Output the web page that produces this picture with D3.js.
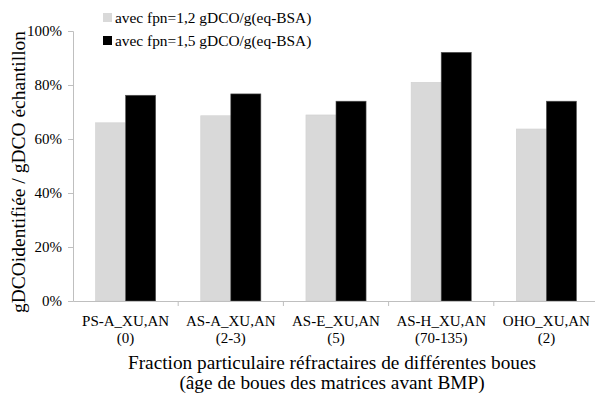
<!DOCTYPE html>
<html>
<head>
<meta charset="utf-8">
<script src="https://cdn.jsdelivr.net/npm/d3@7"></script>
<style>
  body { margin: 0; background: #fff; }
  svg { display: block; }
  svg text { font-family: "Liberation Serif", "Times New Roman", serif; fill: #000; }
</style>
</head>
<body>
<div id="chart"></div>
<script>
const WIDTH = 595;
const HEIGHT = 396;
const FONT = "Liberation Serif";

const categories = ["PS-A_XU,AN", "AS-A_XU,AN", "AS-E_XU,AN", "AS-H_XU,AN", "OHO_XU,AN"];
const ages = ["(0)", "(2-3)", "(5)", "(70-135)", "(2)"];
const seriesNames = ["avec fpn=1,2 gDCO/g(eq-BSA)", "avec fpn=1,5 gDCO/g(eq-BSA)"];
const fpn12 = [0.66, 0.686, 0.689, 0.81, 0.637];
const fpn15 = [0.762, 0.767, 0.740, 0.921, 0.740];
const yTicks = [0, 0.2, 0.4, 0.6, 0.8, 1.0];

const colors = ["#d9d9d9", "#000000"];

const margin = { left: 73, right: -4, top: 31, bottom: 95 };

const svg = d3.select("#chart").append("svg")
    .attr("width", WIDTH)
    .attr("height", HEIGHT);

const x = d3.scaleBand()
    .domain(categories)
    .range([margin.left, WIDTH - margin.right])
    .paddingInner(0)
    .paddingOuter(0);

const y = d3.scaleLinear()
    .domain([0, 1])
    .range([HEIGHT - margin.bottom, margin.top]);

const sub = d3.scaleBand()
    .domain([0, 1])
    .range([0, x.bandwidth()])
    .paddingInner(0)
    .paddingOuter(0.75);

const rows = categories.map((c, i) => ({ cat: c, vals: [fpn12[i], fpn15[i]] }));

// bars
const groups = svg.append("g")
    .selectAll("g")
    .data(rows)
    .join("g")
    .attr("transform", d => `translate(${x(d.cat)},0)`);

groups.selectAll("rect")
    .data(d => d.vals.map((v, s) => ({ v, s })))
    .join("rect")
    .attr("x", d => sub(d.s))
    .attr("width", sub.bandwidth())
    .attr("y", d => y(d.v))
    .attr("height", d => y(0) - y(d.v))
    .attr("fill", d => colors[d.s])
    .attr("stroke", d => d.s === 0 ? "#d0d0d0" : "#555")
    .attr("stroke-width", 0.6);

// y axis
const yAxis = svg.append("g")
    .attr("transform", `translate(${margin.left},0)`)
    .call(d3.axisLeft(y).tickValues(yTicks).tickFormat(d3.format(".0%")).tickSize(5).tickPadding(6));
yAxis.attr("font-family", FONT);
yAxis.select(".domain").attr("stroke", "#bfbfbf");
yAxis.selectAll(".tick line").attr("stroke", "#bfbfbf");
yAxis.selectAll(".tick text")
    .attr("font-size", 15)
    .attr("fill", "#000");

// x axis
const xAxis = svg.append("g")
    .attr("transform", `translate(0,${y(0)})`)
    .call(d3.axisBottom(x).tickSize(0).tickFormat(""));
xAxis.select(".domain").attr("stroke", "#bfbfbf");
xAxis.selectAll(".sep")
    .data(categories.slice(1))
    .join("line")
    .attr("class", "sep")
    .attr("x1", d => x(d))
    .attr("x2", d => x(d))
    .attr("y1", 0)
    .attr("y2", 5)
    .attr("stroke", "#bfbfbf");

const labels = svg.append("g")
    .attr("font-family", FONT)
    .selectAll("text")
    .data(categories)
    .join("text")
    .attr("x", d => x(d) + x.bandwidth() / 2)
    .attr("y", y(0) + 25)
    .attr("text-anchor", "middle")
    .attr("font-size", 15);
labels.append("tspan").text(d => d);
labels.append("tspan")
    .attr("x", d => x(d) + x.bandwidth() / 2)
    .attr("dy", 17)
    .text((d, i) => ages[i]);

// axis titles
svg.append("text")
    .attr("font-family", FONT)
    .attr("transform", `translate(25,172) rotate(-90)`)
    .attr("text-anchor", "middle")
    .attr("font-size", 19.5)
    .text("gDCOidentifiée / gDCO échantillon");

const xTitle = svg.append("text")
    .attr("font-family", FONT)
    .attr("x", 332)
    .attr("y", 369)
    .attr("text-anchor", "middle")
    .attr("font-size", 19.3);
xTitle.append("tspan").text("Fraction particulaire réfractaires de différentes boues");
xTitle.append("tspan").attr("x", 332).attr("dy", 20).text("(âge de boues des matrices avant BMP)");

// legend
const legend = svg.append("g")
    .attr("font-family", FONT)
    .selectAll("g")
    .data(seriesNames)
    .join("g")
    .attr("transform", (d, i) => `translate(103,${13 + i * 23})`);
legend.append("rect")
    .attr("width", 9)
    .attr("height", 9)
    .attr("fill", (d, i) => colors[i]);
legend.append("text")
    .attr("x", 12)
    .attr("y", 10)
    .attr("font-size", 15.4)
    .text(d => d);
</script>
</body>
</html>
